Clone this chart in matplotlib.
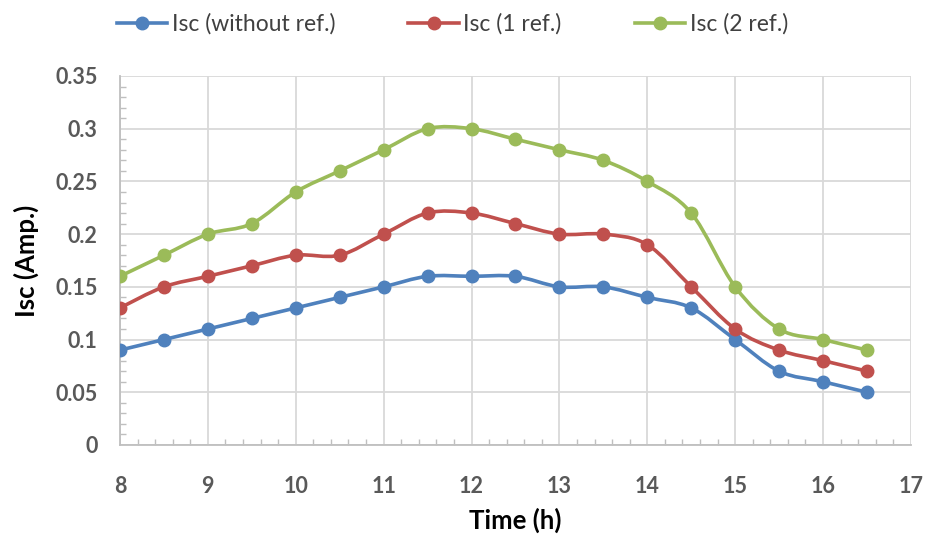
import numpy as np
import matplotlib.pyplot as plt
from matplotlib.path import Path
from matplotlib.patches import PathPatch
from matplotlib.lines import Line2D
from matplotlib.ticker import MultipleLocator

plt.rcParams['font.family'] = ['Lato', 'DejaVu Sans']

hours = [8, 8.5, 9, 9.5, 10, 10.5, 11, 11.5, 12, 12.5, 13, 13.5, 14, 14.5, 15, 15.5, 16, 16.5]
isc_no_ref = [0.09, 0.10, 0.11, 0.12, 0.13, 0.14, 0.15, 0.16, 0.16, 0.16, 0.15, 0.15, 0.14, 0.13, 0.10, 0.07, 0.06, 0.05]
isc_1_ref = [0.13, 0.15, 0.16, 0.17, 0.18, 0.18, 0.20, 0.22, 0.22, 0.21, 0.20, 0.20, 0.19, 0.15, 0.11, 0.09, 0.08, 0.07]
isc_2_ref = [0.16, 0.18, 0.20, 0.21, 0.24, 0.26, 0.28, 0.30, 0.30, 0.29, 0.28, 0.27, 0.25, 0.22, 0.15, 0.11, 0.10, 0.09]

series = [
    ('Isc (without ref.)', isc_no_ref, '#4F81BD'),
    ('Isc (1 ref.)', isc_1_ref, '#C0504D'),
    ('Isc (2 ref.)', isc_2_ref, '#9BBB59'),
]


def smooth_path(x, y):
    # bezier segments through every point, spreadsheet-style smoothing
    pts = np.column_stack([x, y]).astype(float)
    verts = [pts[0]]
    codes = [Path.MOVETO]
    n = len(pts)
    for i in range(n - 1):
        p0 = pts[i - 1] if i > 0 else pts[i]
        p1 = pts[i]
        p2 = pts[i + 1]
        p3 = pts[i + 2] if i + 2 < n else pts[i + 1]
        c1 = p1 + (p2 - p0) / 6.0
        c2 = p2 - (p3 - p1) / 6.0
        verts += [c1, c2, p2]
        codes += [Path.CURVE4] * 3
    return Path(verts, codes)


fig = plt.figure(figsize=(9.27, 5.34), dpi=100)
ax = fig.add_axes([0.1294, 0.1667, 0.8533, 0.691])

for name, vals, col in series:
    ax.add_patch(PathPatch(smooth_path(hours, vals), facecolor='none',
                           edgecolor=col, lw=2.6, zorder=3))
    ax.plot(hours, vals, 'o', color=col, ms=9, zorder=4)

ax.set_xlim(8, 17)
ax.set_ylim(0, 0.35)
ax.xaxis.set_major_locator(MultipleLocator(1))
ax.xaxis.set_minor_locator(MultipleLocator(0.2))
ax.yaxis.set_minor_locator(MultipleLocator(0.01))
ax.set_yticks(np.arange(0, 0.351, 0.05))
ax.set_yticklabels(['0', '0.05', '0.1', '0.15', '0.2', '0.25', '0.3', '0.35'])

ax.grid(True, which='major', color='#D9D9D9', lw=1.3, zorder=0)
for s in ['top', 'right']:
    ax.spines[s].set_visible(False)
for s in ['left', 'bottom']:
    ax.spines[s].set_color('#BFBFBF')
    ax.spines[s].set_linewidth(1.3)
ax.tick_params(which='both', direction='in', color='#BFBFBF', width=1.0)
ax.tick_params(which='major', length=0, labelsize=15.5, labelcolor='#595959')
ax.tick_params(axis='y', which='major', pad=16)
ax.tick_params(axis='x', which='major', pad=22)
ax.tick_params(which='minor', length=4)
for lab in ax.get_xticklabels() + ax.get_yticklabels():
    lab.set_fontweight('bold')

ax.set_xlabel('Time (h)', fontsize=18.5, fontweight='bold', labelpad=8)
ax.set_ylabel('Isc (Amp.)', fontsize=18.5, fontweight='bold', labelpad=12)

handles = [Line2D([0], [0], color=c, lw=2.6, marker='o', ms=9) for _, _, c in series]
fig.legend(handles, [s[0] for s in series], loc='center', bbox_to_anchor=(0.488, 0.955),
           ncol=3, frameon=False, fontsize=16.5, handlelength=2.2, handletextpad=0.2,
           columnspacing=3.2, labelcolor='#404040')

fig.savefig('out.png', dpi=100)
